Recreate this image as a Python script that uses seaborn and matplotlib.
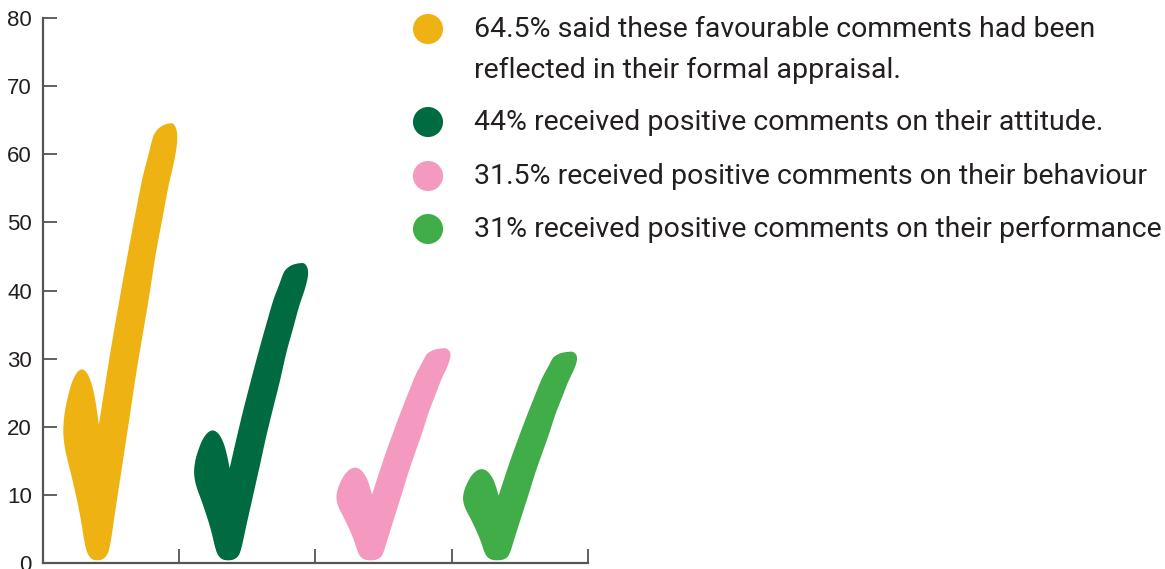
import numpy as np
import matplotlib
matplotlib.use("Agg")
import matplotlib.pyplot as plt
import seaborn as sns
from matplotlib.patches import Polygon

# ---------------- data ----------------
categories = ["Formal appraisal", "Attitude", "Behaviour", "Performance"]
values = [64.5, 44, 31.5, 31]
legend_labels = [
    "64.5% said these favourable comments had been\nreflected in their formal appraisal.",
    "44% received positive comments on their attitude.",
    "31.5% received positive comments on their behaviour",
    "31% received positive comments on their performance",
]
colors = ["#EEB313", "#006B41", "#F49AC1", "#41AD49"]
y_ticks = [0, 10, 20, 30, 40, 50, 60, 70, 80]

# ---------------- style ----------------
sns.set_style("ticks")
plt.rcParams["font.family"] = ["Liberation Sans", "DejaVu Sans"]
LEGEND_FONT = ["Roboto", "DejaVu Sans"]
TEXT = "#231F20"
AXIS = "#555555"

# checkmark outline template: u = fraction of category width (from its left edge),
# v = fraction of the bar's value. Starts and ends at the inner notch.
TEMPLATE = np.array([
    (0.41, 0.31), (0.39, 0.355), (0.365, 0.395), (0.33, 0.425), (0.29, 0.437),
    (0.25, 0.43), (0.21, 0.405), (0.178, 0.368), (0.158, 0.335), (0.149, 0.30),
    (0.155, 0.27), (0.172, 0.24), (0.20, 0.205), (0.23, 0.165), (0.258, 0.125),
    (0.282, 0.085), (0.30, 0.05), (0.322, 0.02), (0.355, 0.004), (0.40, 0.0),
    (0.445, 0.004), (0.478, 0.018), (0.498, 0.045), (0.513, 0.075), (0.534, 0.12),
    (0.583, 0.22), (0.632, 0.32), (0.68, 0.42), (0.728, 0.51), (0.777, 0.60),
    (0.827, 0.70), (0.875, 0.78), (0.92, 0.855), (0.96, 0.91), (0.982, 0.95),
    (0.985, 0.975), (0.975, 0.99), (0.954, 1.0), (0.92, 1.0), (0.88, 0.996),
    (0.845, 0.988), (0.815, 0.975), (0.797, 0.958), (0.775, 0.93), (0.73, 0.875),
    (0.682, 0.80), (0.621, 0.70), (0.563, 0.60), (0.507, 0.50), (0.455, 0.40),
    (0.41, 0.31),
])
SHIFT = [0.0, -0.04, 0.005, -0.066]


def catmull_rom(pts, n=10):
    p = np.vstack([pts[0], pts, pts[-1]])
    out = []
    for i in range(1, len(p) - 2):
        p0, p1, p2, p3 = p[i - 1], p[i], p[i + 1], p[i + 2]
        for t in np.linspace(0, 1, n, endpoint=False):
            t2, t3 = t * t, t * t * t
            out.append(0.5 * ((2 * p1) + (-p0 + p2) * t
                              + (2 * p0 - 5 * p1 + 4 * p2 - p3) * t2
                              + (-p0 + 3 * p1 - 3 * p2 + p3) * t3))
    out.append(p[-2])
    return np.array(out)


SMOOTH = catmull_rom(TEMPLATE)

fig = plt.figure(figsize=(11.65, 5.69), dpi=100)
ax = fig.add_axes([0.0369, 0.0105, 0.4678, 0.9578])

# invisible categorical bars establish the seaborn categorical scale
sns.barplot(x=categories, y=values, ax=ax, alpha=0, errorbar=None)

for i, (val, col) in enumerate(zip(values, colors)):
    xs = i - 0.5 + SMOOTH[:, 0] + SHIFT[i]
    ys = 0.4 + SMOOTH[:, 1] * (val - 0.4)
    ax.add_patch(Polygon(np.column_stack([xs, ys]), closed=True,
                         facecolor=col, edgecolor="none", zorder=3))

ax.set_xlim(-0.5, len(categories) - 0.5)
ax.set_ylim(0, 80)
ax.set_yticks(y_ticks)
ax.set_yticklabels([str(t) for t in y_ticks], fontsize=16, color=TEXT)
ax.set_xticks([i + 0.5 for i in range(len(categories))])
ax.set_xticklabels([])
ax.set_xlabel("")
ax.set_ylabel("")
ax.tick_params(axis="y", direction="in", length=10, width=1.3, color=AXIS, pad=8)
ax.tick_params(axis="x", direction="in", length=10, width=1.3, color=AXIS)
for s in ["top", "right"]:
    ax.spines[s].set_visible(False)
for s in ["left", "bottom"]:
    ax.spines[s].set_color(AXIS)
    ax.spines[s].set_linewidth(1.6)
ax.patch.set_alpha(0)

# legend drawn in figure pixel space
lax = fig.add_axes([0, 0, 1, 1], zorder=5)
lax.set_xlim(0, 1165)
lax.set_ylim(569, 0)
lax.axis("off")
dot_y = [29, 122, 176, 229]
sns.scatterplot(x=[428] * len(colors), y=dot_y, hue=categories, palette=colors,
                s=470, linewidth=0, legend=False, ax=lax)
for y, lab in zip(dot_y, legend_labels):
    for k, line in enumerate(lab.split("\n")):
        lax.text(474, y + 41 * k, line, fontsize=20.5, color=TEXT,
                 family=LEGEND_FONT, va="center", ha="left")

fig.savefig("out.png", dpi=100)
